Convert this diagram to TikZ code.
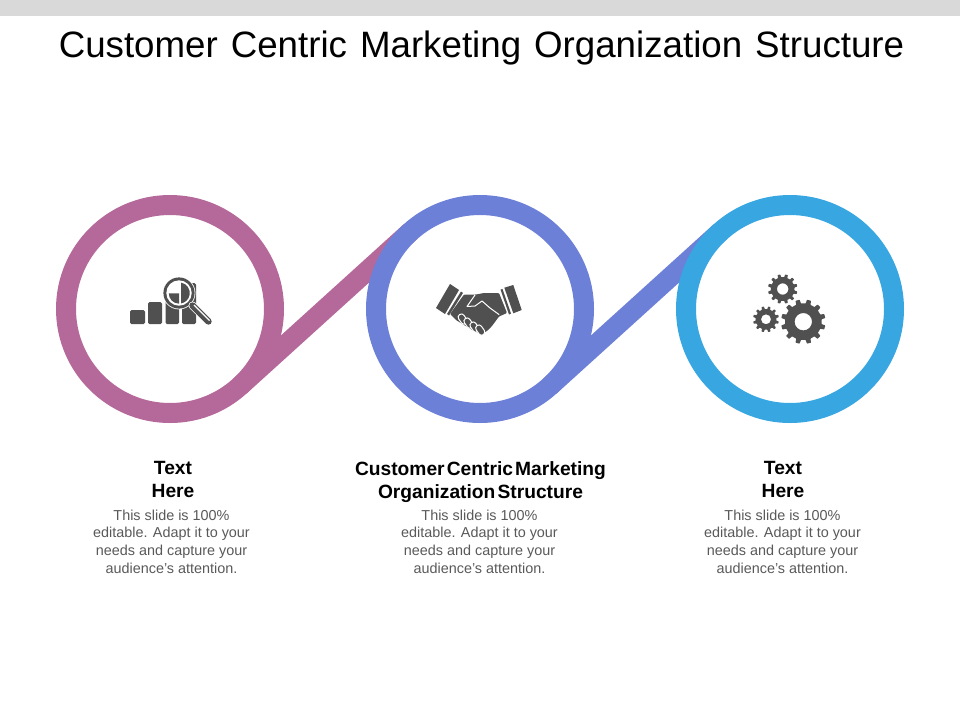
\documentclass[tikz,border=0pt]{standalone}
\usepackage{fontspec}
\setmainfont{Liberation Sans}
\definecolor{plum}{HTML}{B5699B}
\definecolor{periw}{HTML}{6D80D8}
\definecolor{skyb}{HTML}{38A6E0}
\definecolor{icon}{HTML}{505050}
\definecolor{bodyt}{HTML}{595959}
\definecolor{topbar}{HTML}{D9D9D9}
\newcommand{\geartrace}[6]{% cx cy outer root hole teeth
  \fill[icon,even odd rule,rounded corners=0.5pt]
    ({#1+#4},{#2})
    \foreach \k in {1,...,#6}{
      -- ({#1+#4*cos((\k-0.76)*360/#6)},{#2+#4*sin((\k-0.76)*360/#6)})
      -- ({#1+#3*cos((\k-0.68)*360/#6)},{#2+#3*sin((\k-0.68)*360/#6)})
      -- ({#1+#3*cos((\k-0.32)*360/#6)},{#2+#3*sin((\k-0.32)*360/#6)})
      -- ({#1+#4*cos((\k-0.24)*360/#6)},{#2+#4*sin((\k-0.24)*360/#6)})
      -- ({#1+#4*cos(\k*360/#6)},{#2+#4*sin(\k*360/#6)})
    }
    -- cycle (#1+#5,#2) arc[start angle=0,end angle=360,radius=#5];
}
\newcommand{\tightwords}{\spaceskip=2.2pt\relax}
\tikzset{
  ring/.style={circle,draw=#1,line width=20pt,minimum size=208pt,inner sep=0pt,outer sep=0pt},
  band/.style={draw=#1,line width=20pt,line cap=butt},
  heading/.style={font=\fontsize{19.2pt}{23pt}\selectfont\bfseries,text=black,align=center,anchor=north,inner sep=0pt},
  bodytext/.style={font=\fontsize{14.4pt}{17.7pt}\selectfont,text=bodyt,align=center,anchor=north,inner sep=0pt},
  barbox/.style={fill=icon,rounded corners=1.5pt},
  handmark/.style={draw=white,line width=1pt,line join=round,line cap=round},
}
\begin{document}
\begin{tikzpicture}[x=1pt,y=-1pt]
\useasboundingbox (0,0) rectangle (960,720);
\fill[topbar] (0,0) rectangle (960,16);
\node[inner sep=0pt,anchor=base] (title) at (481.5,57) {\fontsize{36.7pt}{40pt}\selectfont\spaceskip=13pt\relax Customer Centric Marketing Organization Structure};

% rings and bands
\coordinate (a1) at (239.8,386.2); \coordinate (a2) at (410.2,231.8);
\coordinate (b1) at (549.8,386.2); \coordinate (b2) at (720.2,231.8);
\draw[band=plum] (a1) -- (a2);
\node[ring=plum] (c1) at (170,309) {};
\draw[band=periw] (b1) -- (b2);
\node[ring=periw] (c2) at (480,309) {};
\node[ring=skyb] (c3) at (790,309) {};

% chart icon
\fill[barbox] (130,310) rectangle (145,324);
\fill[barbox] (148,302) rectangle (162,324);
\fill[barbox] (165.5,296) rectangle (179,324);
\fill[barbox] (182,283) rectangle (196,324);
\fill[white] (179,293) circle (16.4);
\fill[icon] (179,293) circle (15.6);
\fill[white] (179,293) circle (12.7);
\fill[icon] (181,282.6) arc[start angle=-80,end angle=80,radius=10.6] -- cycle;
\fill[icon] (179,293.4) -- (179,303.6) arc[start angle=90,end angle=180,radius=10.2] -- cycle;
\draw[white,line width=8pt,line cap=round] (192.5,305.5) -- (208.5,321.5);
\draw[icon,line width=6.4pt,line cap=round] (192.5,305.5) -- (208.5,321.5);
\draw[white,line width=1.2pt] (194,305) -- (209.5,320.5);

% handshake icon
\fill[icon] (450,284) -- (459,290) -- (445,314) -- (436,308) -- cycle;
\fill[icon] (504.3,287.7) -- (513.3,285) -- (521.7,310) -- (513.3,313.3) -- cycle;
\fill[icon] (461,291.5) -- (463,293) -- (449,315.5) -- (447,314) -- cycle;
\fill[icon] (500.5,289.5) -- (502.5,289) -- (511,313.5) -- (509,314.5) -- cycle;
\fill[icon,rounded corners=1pt] (464,294.5) -- (476,294.5) -- (484,293) -- (499,293) -- (507,313) -- (499,316.5)
  -- (492,326) -- (487,331) -- (481,334) -- (474,331) -- (464,325) -- (456,320) -- (450,314) -- cycle;
\draw[handmark] (499,314.5) -- (490,308) -- (482,301) -- (475,306) -- (467,306.5) -- (475,295);
\foreach \x/\y in {463/319.5,468.8/323.5,474.8/327.5,480.5/330.5}{
  \filldraw[fill=icon,draw=white,line width=1pt,rotate around={35:(\x,\y)},rounded corners=3pt] (\x-3.2,\y-6) rectangle (\x+3.2,\y+5);
}
% gears
\geartrace{803.3}{321.7}{22.3}{18.3}{8.7}{12}
\geartrace{782.7}{289}{14.8}{11.8}{5.7}{12}
\geartrace{766}{319.3}{13}{10.3}{5}{12}

% labels
\node[heading] (h1) at (173,461.5) {Text\\Here};
\node[heading] (h2) at (480.5,461.5) {\tightwords Customer Centric Marketing\\\tightwords Organization Structure};
\node[heading] (h3) at (783,461.5) {Text\\Here};
\node[bodytext] (t1) at (171.5,509.5) {This slide is 100\%\\editable. Adapt it to your\\needs and capture your\\audience's attention.};
\node[bodytext] (t2) at (479.5,509.5) {This slide is 100\%\\editable. Adapt it to your\\needs and capture your\\audience's attention.};
\node[bodytext] (t3) at (782.5,509.5) {This slide is 100\%\\editable. Adapt it to your\\needs and capture your\\audience's attention.};
\end{tikzpicture}
\end{document}
